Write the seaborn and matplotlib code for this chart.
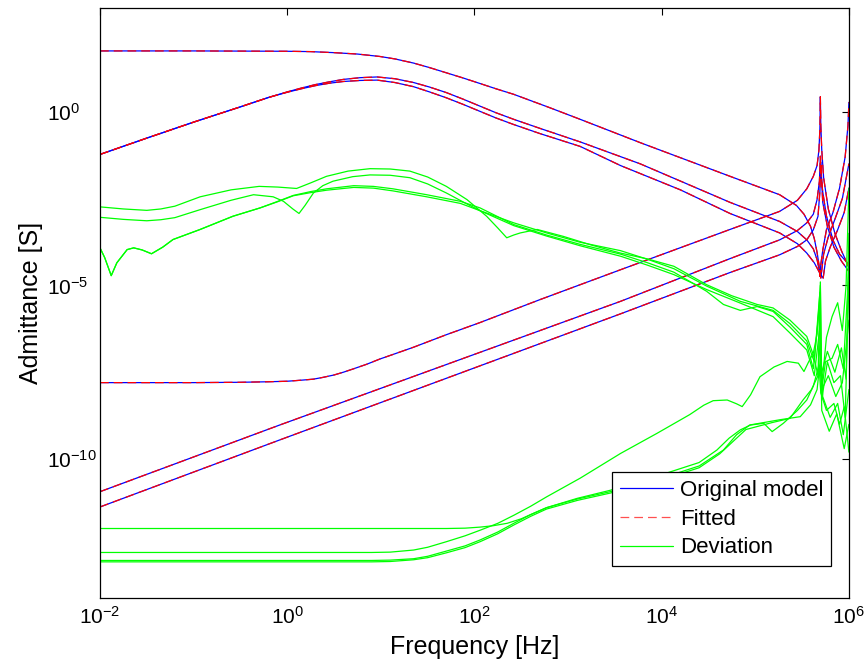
import pandas as pd
import matplotlib
matplotlib.use("Agg")
import matplotlib.pyplot as plt
from matplotlib.lines import Line2D
from matplotlib.ticker import FixedLocator, NullLocator
import seaborn as sns

# Curves as (log10 frequency [Hz], log10 admittance [S]) points.
# Original model (blue). The fitted model sits on top of these at this scale.
orig_flat_top = [(-2.0, 1.75), (-1.0, 1.75), (0.0, 1.74), (0.25, 1.73), (0.5, 1.70), (0.75, 1.66),
                 (0.99, 1.59), (1.15, 1.52), (1.35, 1.40), (1.52, 1.27), (1.70, 1.12), (1.88, 0.97),
                 (2.05, 0.82), (2.23, 0.66), (2.42, 0.50), (2.60, 0.32), (2.80, 0.12), (3.13, -0.22),
                 (3.77, -0.89), (4.73, -1.86), (5.0, -2.13), (5.26, -2.39), (5.44, -2.70), (5.52, -2.95),
                 (5.59, -3.30), (5.63, -3.65), (5.66, -4.05), (5.68, -4.40), (5.69, -4.74), (5.70, -4.40),
                 (5.72, -4.0), (5.76, -3.4), (5.83, -2.9), (5.90, -2.2), (5.96, -1.3), (5.99, -0.4),
                 (6.0, 0.27)]
orig_hump_a = [(-2.0, -1.23), (-1.5, -0.76), (-1.0, -0.30), (-0.5, 0.14), (-0.2, 0.41), (0.0, 0.57),
               (0.15, 0.68), (0.3, 0.78), (0.45, 0.86), (0.6, 0.93), (0.78, 0.98), (0.96, 1.00),
               (1.15, 0.95), (1.35, 0.84), (1.52, 0.71), (1.70, 0.55), (1.88, 0.36), (2.05, 0.17),
               (2.23, -0.03), (2.42, -0.22), (2.70, -0.48), (3.13, -0.87), (3.77, -1.50), (4.73, -2.61),
               (5.26, -3.16), (5.45, -3.45), (5.55, -3.69), (5.62, -3.95), (5.66, -4.26), (5.70, -4.79),
               (5.73, -4.1), (5.78, -3.6), (5.85, -3.1), (5.93, -2.5), (6.0, -1.5)]
orig_hump_b = [(-2.0, -1.23), (-1.5, -0.76), (-1.0, -0.30), (-0.5, 0.14), (-0.2, 0.41), (0.0, 0.56),
               (0.15, 0.66), (0.3, 0.75), (0.45, 0.82), (0.6, 0.87), (0.78, 0.90), (0.96, 0.91),
               (1.15, 0.84), (1.35, 0.72), (1.52, 0.57), (1.70, 0.40), (1.88, 0.21), (2.05, 0.02),
               (2.23, -0.18), (2.42, -0.37), (2.70, -0.63), (3.13, -1.00), (3.56, -1.55), (4.2, -2.25),
               (4.73, -2.93), (5.26, -3.49), (5.45, -3.80), (5.55, -4.07), (5.63, -4.35), (5.67, -4.55),
               (5.70, -4.70), (5.725, -4.79), (5.75, -4.3), (5.80, -3.9), (5.88, -3.4), (5.95, -2.9),
               (6.0, -2.2)]
orig_low_corner = [(-2.0, -7.80), (-1.0, -7.80), (-0.5, -7.79), (-0.2, -7.775), (0.0, -7.76), (0.15, -7.73),
                   (0.28, -7.70), (0.38, -7.65), (0.50, -7.58), (0.60, -7.50), (0.70, -7.41), (0.85, -7.27),
                   (0.99, -7.12), (1.15, -6.97), (1.35, -6.78), (1.70, -6.42), (2.06, -6.07), (2.70, -5.41),
                   (3.56, -4.55), (4.73, -3.39), (5.26, -2.87), (5.45, -2.55), (5.55, -2.22), (5.62, -1.86),
                   (5.66, -1.55), (5.68, -1.1), (5.69, -0.5), (5.695, 0.43), (5.70, -0.4), (5.71, -1.1),
                   (5.73, -1.9), (5.78, -2.8), (5.85, -3.5), (5.92, -4.0), (5.97, -4.3), (6.0, -4.5)]
orig_line_a = [(-2.0, -10.94), (-0.08, -9.02), (3.56, -5.46), (4.73, -4.23), (5.26, -3.69), (5.45, -3.42),
               (5.55, -3.20), (5.62, -2.95), (5.66, -2.53), (5.685, -2.0), (5.695, -1.28), (5.705, -1.9),
               (5.72, -2.3), (5.76, -3.0), (5.83, -3.7), (5.90, -4.1), (6.0, -4.4)]
orig_line_b = [(-2.0, -11.38), (-0.08, -9.45), (3.56, -5.82), (4.73, -4.63), (5.26, -4.12), (5.45, -3.88),
               (5.55, -3.69), (5.62, -3.40), (5.67, -3.01), (5.69, -2.3), (5.70, -1.46), (5.71, -2.0),
               (5.72, -2.6), (5.77, -3.3), (5.84, -3.9), (5.92, -4.3), (6.0, -4.6)]

# Deviation between original and fitted (green)
dev_a = [(-2.0, -2.74), (-1.75, -2.80), (-1.5, -2.84), (-1.35, -2.80), (-1.2, -2.72), (-0.93, -2.45),
         (-0.6, -2.25), (-0.3, -2.15), (-0.1, -2.17), (0.10, -2.21), (0.25, -2.05), (0.42, -1.86),
         (0.65, -1.71), (0.885, -1.64), (1.1, -1.65), (1.31, -1.71), (1.50, -1.88), (1.70, -2.15),
         (1.92, -2.53), (2.13, -3.01), (2.25, -3.35), (2.345, -3.63), (2.42, -3.55), (2.49, -3.49),
         (2.67, -3.39), (2.95, -3.59), (3.25, -3.84), (3.56, -4.07), (3.85, -4.24), (4.13, -4.45),
         (4.48, -4.98), (4.75, -5.30), (5.02, -5.55), (5.19, -5.65), (5.37, -6.0), (5.55, -6.47),
         (5.62, -7.0), (5.67, -7.6), (5.695, -4.9), (5.71, -7.9), (5.76, -6.5), (5.82, -5.9),
         (5.88, -5.5), (5.93, -6.3), (5.97, -5.0), (6.0, -2.2)]
dev_b = [(-2.0, -3.04), (-1.75, -3.10), (-1.5, -3.14), (-1.35, -3.11), (-1.2, -3.05), (-0.93, -2.82),
         (-0.6, -2.55), (-0.36, -2.39), (-0.15, -2.45), (-0.04, -2.58), (0.06, -2.80), (0.126, -2.93),
         (0.19, -2.70), (0.28, -2.34), (0.38, -2.13), (0.49, -2.00), (0.70, -1.87), (0.885, -1.82),
         (1.10, -1.83), (1.31, -1.90), (1.50, -2.08), (1.70, -2.34), (1.88, -2.60), (2.06, -2.85),
         (2.42, -3.20), (2.77, -3.49), (3.13, -3.76), (3.56, -4.00), (3.85, -4.25), (4.13, -4.52),
         (4.48, -5.02), (4.84, -5.46), (5.19, -5.72), (5.37, -6.1), (5.55, -6.6), (5.63, -7.2),
         (5.69, -5.2), (5.705, -8.1), (5.75, -7.2), (5.82, -7.1), (5.88, -6.7), (5.94, -7.4), (6.0, -4.5)]
dev_c = [(-2.0, -3.92), (-1.95, -4.2), (-1.88, -4.72), (-1.82, -4.35), (-1.71, -3.97), (-1.64, -3.92),
         (-1.55, -3.98), (-1.45, -4.09), (-1.33, -3.90), (-1.22, -3.68), (-0.93, -3.39), (-0.58, -3.01),
         (-0.29, -2.77), (-0.1, -2.58), (0.065, -2.41), (0.25, -2.30), (0.42, -2.22), (0.71, -2.13),
         (0.92, -2.15), (1.13, -2.22), (1.49, -2.39), (1.85, -2.58), (2.06, -2.77), (2.42, -3.25),
         (2.77, -3.55), (3.13, -3.82), (3.56, -4.10), (3.85, -4.35), (4.13, -4.62), (4.48, -5.17),
         (4.66, -5.55), (4.84, -5.72), (5.02, -5.61), (5.19, -5.75), (5.37, -6.2), (5.55, -6.7),
         (5.62, -7.4), (5.685, -5.6), (5.70, -7.6), (5.77, -6.9), (5.85, -7.5), (5.92, -6.8),
         (5.97, -7.7), (6.0, -3.5)]
dev_d = [(-2.0, -3.92), (-1.95, -4.2), (-1.88, -4.72), (-1.82, -4.35), (-1.71, -3.97), (-1.64, -3.92),
         (-1.55, -3.98), (-1.45, -4.09), (-1.33, -3.90), (-1.22, -3.68), (-0.93, -3.39), (-0.58, -3.01),
         (-0.29, -2.77), (-0.1, -2.59), (0.065, -2.42), (0.25, -2.33), (0.42, -2.26), (0.71, -2.18),
         (0.92, -2.20), (1.13, -2.28), (1.49, -2.45), (1.85, -2.64), (2.06, -2.85), (2.42, -3.28),
         (2.77, -3.58), (3.13, -3.86), (3.56, -4.16), (3.85, -4.42), (4.13, -4.69), (4.48, -5.12),
         (4.84, -5.51), (5.19, -5.9), (5.37, -6.37), (5.55, -6.86), (5.63, -7.6), (5.69, -6.2),
         (5.71, -8.0), (5.78, -7.6), (5.86, -8.2), (5.93, -7.8), (6.0, -6.0)]
dev_e = [(-2.0, -12.0), (1.70, -12.0), (1.90, -11.99), (2.06, -11.96), (2.20, -11.92), (2.35, -11.85),
         (2.50, -11.72), (2.60, -11.60), (2.77, -11.40), (3.10, -11.13), (3.45, -10.90), (4.0, -10.45),
         (4.4, -10.1), (4.59, -9.74), (4.72, -9.40), (4.84, -9.16), (4.95, -9.02), (5.09, -8.97),
         (5.18, -9.21), (5.30, -8.97), (5.45, -8.6), (5.55, -8.30), (5.62, -7.9), (5.68, -7.3),
         (5.70, -8.1), (5.76, -8.6), (5.84, -8.4), (5.90, -9.0), (5.95, -8.5), (6.0, -9.8)]
dev_f = [(-2.0, -12.69), (0.9, -12.69), (1.1, -12.68), (1.35, -12.62), (1.5, -12.54), (1.70, -12.38),
         (1.9, -12.21), (2.06, -12.05), (2.25, -11.85), (2.42, -11.62), (2.6, -11.36), (2.77, -11.09),
         (3.13, -10.55), (3.56, -9.84), (3.95, -9.26), (4.30, -8.72), (4.45, -8.45), (4.55, -8.32),
         (4.70, -8.30), (4.80, -8.41), (4.86, -8.49), (4.95, -8.15), (5.05, -7.63), (5.20, -7.35),
         (5.34, -7.19), (5.46, -7.24), (5.52, -7.48), (5.57, -7.2), (5.62, -6.95), (5.66, -6.4),
         (5.695, -5.0), (5.71, -8.3), (5.77, -7.2), (5.84, -7.8), (5.91, -7.6), (5.96, -8.8), (6.0, -4.9)]
dev_g = [(-2.0, -12.92), (0.9, -12.92), (1.1, -12.91), (1.35, -12.87), (1.5, -12.80), (1.70, -12.65),
         (1.9, -12.50), (2.06, -12.33), (2.25, -12.10), (2.42, -11.85), (2.6, -11.60), (2.77, -11.40),
         (3.1, -11.15), (3.45, -10.94), (4.0, -10.55), (4.4, -10.2), (4.66, -9.74), (4.80, -9.30),
         (4.94, -9.02), (5.26, -8.87), (5.48, -8.78), (5.59, -8.44), (5.66, -8.0), (5.70, -7.0),
         (5.72, -8.2), (5.80, -8.8), (5.88, -8.4), (5.94, -9.3), (6.0, -8.0)]
dev_h = [(-2.0, -12.96), (0.9, -12.96), (1.1, -12.95), (1.35, -12.90), (1.5, -12.84), (1.70, -12.70),
         (1.9, -12.55), (2.06, -12.38), (2.25, -12.15), (2.42, -11.90), (2.6, -11.65), (2.77, -11.44),
         (3.1, -11.19), (3.45, -10.98), (4.0, -10.6), (4.4, -10.25), (4.62, -9.85), (4.90, -9.15),
         (5.18, -8.95), (5.37, -8.83), (5.51, -8.30), (5.60, -8.0), (5.67, -7.6), (5.695, -6.5),
         (5.71, -8.6), (5.79, -9.2), (5.87, -8.7), (5.95, -9.7), (6.0, -9.0)]

original_curves = {"flat_top": orig_flat_top, "hump_a": orig_hump_a, "hump_b": orig_hump_b,
                   "low_corner": orig_low_corner, "line_a": orig_line_a, "line_b": orig_line_b}
deviation_curves = {"a": dev_a, "b": dev_b, "c": dev_c, "d": dev_d,
                    "e": dev_e, "f": dev_f, "g": dev_g, "h": dev_h}


def to_frame(curves: dict) -> pd.DataFrame:
    rows = [{"curve": name, "freq": 10 ** lf, "adm": 10 ** ly}
            for name, pts in curves.items() for lf, ly in pts]
    return pd.DataFrame(rows)


orig_df = to_frame(original_curves)
fitted_df = orig_df.copy()
dev_df = to_frame(deviation_curves)

sns.set_style("white")
plt.rcParams["font.family"] = ["Liberation Sans", "DejaVu Sans"]
plt.rcParams["mathtext.fontset"] = "custom"
plt.rcParams["mathtext.rm"] = "Liberation Sans"
plt.rcParams["mathtext.it"] = "Liberation Sans:italic"
plt.rcParams["mathtext.bf"] = "Liberation Sans:bold"
for key in ("text.color", "axes.labelcolor", "xtick.color", "ytick.color"):
    plt.rcParams[key] = "black"

fig, ax = plt.subplots(figsize=(8.68, 6.70), dpi=100)
fig.subplots_adjust(left=0.1152, right=0.978, bottom=0.1075, top=0.9888)

dash = (0, (7, 4))
line_kws = dict(units="curve", estimator=None, sort=False, legend=False, ax=ax, lw=0.9)
sns.lineplot(data=orig_df, x="freq", y="adm", color="#0000ff", **line_kws)
sns.lineplot(data=fitted_df, x="freq", y="adm", color="#ff0000", linestyle=dash, **line_kws)
sns.lineplot(data=dev_df, x="freq", y="adm", color="#00ff00", **line_kws)

ax.set_xscale("log")
ax.set_yscale("log")
ax.set_xlim(1e-2, 1e6)
ax.set_ylim(1e-14, 1e3)
ax.xaxis.set_major_locator(FixedLocator([1e-2, 1e0, 1e2, 1e4, 1e6]))
ax.yaxis.set_major_locator(FixedLocator([1e-10, 1e-5, 1e0]))
ax.xaxis.set_minor_locator(NullLocator())
ax.yaxis.set_minor_locator(NullLocator())
ax.tick_params(which="major", direction="in", length=5, width=0.8, top=True, right=True,
               labelsize=15, colors="black")
ax.tick_params(axis="x", pad=6)
# MATLAB-style y labels: left-aligned in a column at the figure edge
ax.tick_params(axis="y", pad=38)
plt.setp(ax.get_yticklabels(), ha="left")
for side in ax.spines.values():
    side.set_linewidth(0.9)
    side.set_color("black")

ax.set_xlabel("Frequency [Hz]", fontsize=18, labelpad=5)
ax.set_ylabel("Admittance [S]", fontsize=18, labelpad=3)

handles = [Line2D([], [], color="#0000ff", lw=0.9),
           Line2D([], [], color="#ff5050", lw=0.9, linestyle=(0, (7, 4))),
           Line2D([], [], color="#00ff00", lw=0.9)]
leg = ax.legend(handles, ["Original model", "Fitted", "Deviation"], loc="lower right",
                bbox_to_anchor=(0.976, 0.054), borderaxespad=0, fontsize=16, frameon=True,
                fancybox=False, framealpha=1, edgecolor="black", handlelength=2.4,
                handletextpad=0.3, labelspacing=0.34, borderpad=0.35)
leg.get_frame().set_linewidth(0.9)
leg.set_zorder(10)

fig.savefig("out.png", dpi=100)
